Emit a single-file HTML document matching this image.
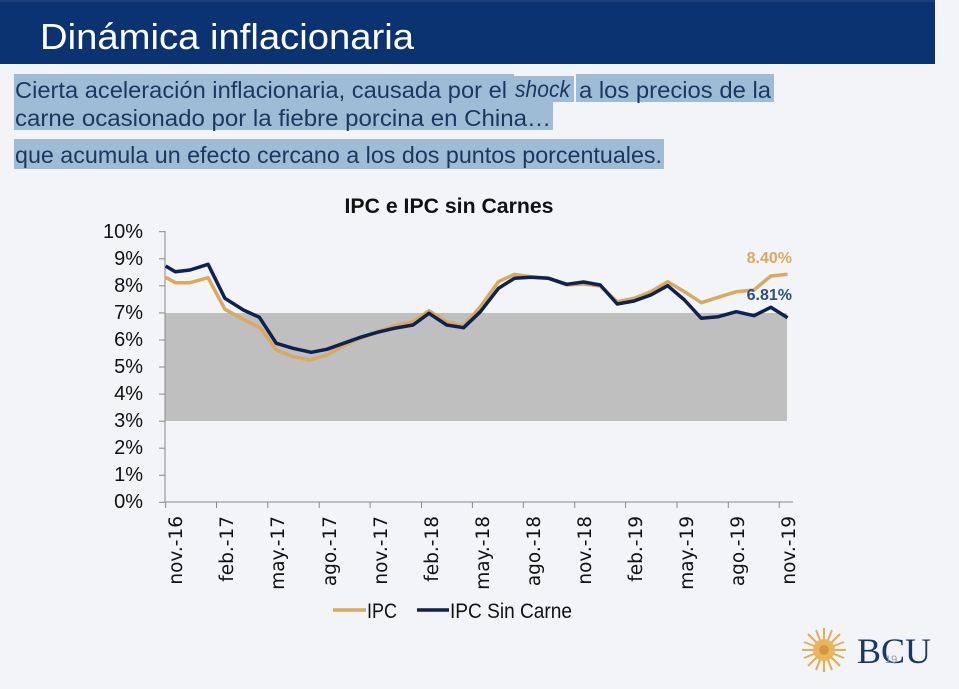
<!DOCTYPE html>
<html><head><meta charset="utf-8"><style>
html,body{margin:0;padding:0;background:#f3f4f8;}
svg{display:block;font-family:"Liberation Sans",sans-serif;}
</style></head><body>
<svg width="959" height="689" viewBox="0 0 959 689" xmlns="http://www.w3.org/2000/svg">
<rect width="959" height="689" fill="#f3f4f8"/>
<rect x="0" y="0" width="935" height="64" fill="#0b3372"/>
<rect x="0" y="0" width="935" height="2" fill="#1c3f7a"/>
<text x="40" y="49" fill="#ffffff" font-size="36" textLength="374" lengthAdjust="spacingAndGlyphs">Dinámica inflacionaria</text>
<g fill="#9fbcd7">
<rect x="14" y="74" width="500" height="28"/><rect x="514" y="76" width="60" height="26"/><rect x="576" y="74" width="198" height="28"/>
<rect x="14" y="102" width="539" height="28"/>
<rect x="14" y="139" width="650" height="30"/>
</g>
<g fill="#1d365f" font-size="23">
<text x="15" y="98" textLength="492" lengthAdjust="spacingAndGlyphs">Cierta aceleración inflacionaria, causada por el</text>
<text x="515" y="97" font-style="italic" textLength="55" lengthAdjust="spacingAndGlyphs">shock</text>
<text x="579" y="98" textLength="192" lengthAdjust="spacingAndGlyphs">a los precios de la</text>
<text x="15" y="126" textLength="536" lengthAdjust="spacingAndGlyphs">carne ocasionado por la fiebre porcina en China…</text>
<text x="15" y="163" textLength="647" lengthAdjust="spacingAndGlyphs">que acumula un efecto cercano a los dos puntos porcentuales.</text>
</g>
<text x="449" y="213" text-anchor="middle" font-weight="bold" font-size="21" fill="#111" textLength="209" lengthAdjust="spacingAndGlyphs">IPC e IPC sin Carnes</text>
<rect x="165" y="313" width="622" height="108" fill="#bfbfbf"/>
<g stroke="#888" stroke-width="1">
<line x1="165" y1="231" x2="165" y2="502"/>
<line x1="165" y1="502" x2="793" y2="502"/>
<line x1="159" y1="231.7" x2="165" y2="231.7"/><line x1="159" y1="258.8" x2="165" y2="258.8"/><line x1="159" y1="285.8" x2="165" y2="285.8"/><line x1="159" y1="312.9" x2="165" y2="312.9"/><line x1="159" y1="340" x2="165" y2="340"/><line x1="159" y1="367" x2="165" y2="367"/><line x1="159" y1="394.1" x2="165" y2="394.1"/><line x1="159" y1="421.2" x2="165" y2="421.2"/><line x1="159" y1="448.2" x2="165" y2="448.2"/><line x1="159" y1="475.3" x2="165" y2="475.3"/><line x1="159" y1="502.3" x2="165" y2="502.3"/>
<line x1="165.6" y1="502" x2="165.6" y2="508"/><line x1="216.5" y1="502" x2="216.5" y2="508"/><line x1="267.8" y1="502" x2="267.8" y2="508"/><line x1="319.2" y1="502" x2="319.2" y2="508"/><line x1="370.1" y1="502" x2="370.1" y2="508"/><line x1="421.5" y1="502" x2="421.5" y2="508"/><line x1="472.4" y1="502" x2="472.4" y2="508"/><line x1="523.3" y1="502" x2="523.3" y2="508"/><line x1="574.7" y1="502" x2="574.7" y2="508"/><line x1="625.6" y1="502" x2="625.6" y2="508"/><line x1="677" y1="502" x2="677" y2="508"/><line x1="728.3" y1="502" x2="728.3" y2="508"/><line x1="779.2" y1="502" x2="779.2" y2="508"/>
</g>
<g font-size="20" fill="#111" text-anchor="end">
<text x="143" y="238">10%</text><text x="143" y="265">9%</text><text x="143" y="292">8%</text><text x="143" y="319">7%</text><text x="143" y="346">6%</text><text x="143" y="373">5%</text><text x="143" y="400">4%</text><text x="143" y="427">3%</text><text x="143" y="454">2%</text><text x="143" y="481">1%</text><text x="143" y="508">0%</text>
</g>
<g font-family="DejaVu Sans,sans-serif" font-size="18.5" fill="#111" text-anchor="end">
<text transform="translate(182,516) rotate(-90)">nov.-16</text>
<text transform="translate(233,516) rotate(-90)">feb.-17</text>
<text transform="translate(284,516) rotate(-90)">may.-17</text>
<text transform="translate(336,516) rotate(-90)">ago.-17</text>
<text transform="translate(387,516) rotate(-90)">nov.-17</text>
<text transform="translate(438,516) rotate(-90)">feb.-18</text>
<text transform="translate(489,516) rotate(-90)">may.-18</text>
<text transform="translate(540,516) rotate(-90)">ago.-18</text>
<text transform="translate(591,516) rotate(-90)">nov.-18</text>
<text transform="translate(642,516) rotate(-90)">feb.-19</text>
<text transform="translate(693,516) rotate(-90)">may.-19</text>
<text transform="translate(744,516) rotate(-90)">ago.-19</text>
<text transform="translate(795,516) rotate(-90)">nov.-19</text>
</g>
<polyline fill="none" stroke="#d9a95e" stroke-width="3.5" stroke-linejoin="round" points="165.6,277.3 175.3,282.7 190,282.7 208.1,277.7 224.9,309.3 243.4,319.3 260.3,327.7 276.3,350 293.1,356.7 309.9,360 326.8,355 343.6,346 360.4,338.3 377.3,331.7 394.1,326 413,321.7 429,310.7 446.7,321.7 463.6,326 480.4,306.7 498.5,281.7 514.5,274.3 530.9,276.7 548.6,278.3 566.7,285 583.5,284 600.3,286 617.2,301.7 634,298.3 650.8,291.7 667.7,281.7 684.5,291.7 701.3,302.7 718.2,297.3 736.3,291.7 754,290 770.8,276 787.6,274.3"/>
<polyline fill="none" stroke="#0d2250" stroke-width="3.5" stroke-linejoin="round" points="165.6,266 175.3,271.7 190,270 208.1,264.3 224.9,298.3 243.4,310 259.4,317.3 276.3,343.3 293.1,348.3 311.2,352.3 326.8,349.3 343.6,343.3 360.4,337.3 377.3,332.3 394.1,328.3 413,325 429,313.3 446.7,325 463.6,327.7 480.4,311.7 498.5,288.3 514.5,278.3 530.9,277.3 548.6,278.3 566.7,284.3 583.5,282 600.3,285 617.2,304 634,301 650.8,295 667.7,285.7 684.5,300 701.3,318.3 718.2,316.7 736.3,311.7 754,315.7 770.8,307.3 787.6,317.7"/>
<text x="792" y="263" text-anchor="end" font-weight="bold" font-size="16" fill="#d9a95e">8.40%</text>
<text x="792" y="300" text-anchor="end" font-weight="bold" font-size="16" fill="#2e4f80">6.81%</text>
<line x1="333" y1="610" x2="366" y2="610" stroke="#d9a95e" stroke-width="3.5"/>
<text x="367" y="618" font-size="21" fill="#111" textLength="30" lengthAdjust="spacingAndGlyphs">IPC</text>
<line x1="417" y1="610" x2="449" y2="610" stroke="#0d2250" stroke-width="3.5"/>
<text x="450" y="618" font-size="21" fill="#111" textLength="122" lengthAdjust="spacingAndGlyphs">IPC Sin Carne</text>
<g transform="translate(824,650)">
<g stroke="#e2ad55" stroke-width="2">
<line x1="-22" y1="0" x2="22" y2="0"/><line x1="0" y1="-22" x2="0" y2="22"/><line x1="-16" y1="-16" x2="16" y2="16"/><line x1="-16" y1="16" x2="16" y2="-16"/>
<line x1="-20" y1="-8" x2="20" y2="8"/><line x1="-20" y1="8" x2="20" y2="-8"/><line x1="-8" y1="-20" x2="8" y2="20"/><line x1="8" y1="-20" x2="-8" y2="20"/>
</g>
<circle r="11" fill="#e9b65c"/><circle r="5" fill="#d19a3e"/>
</g>
<text x="857" y="663" font-family="Liberation Serif,serif" font-size="36" fill="#1b3766" textLength="74" lengthAdjust="spacingAndGlyphs">BCU</text>
<text x="885" y="663" font-size="11" fill="#8899aa">19</text>
</svg>
</body></html>
